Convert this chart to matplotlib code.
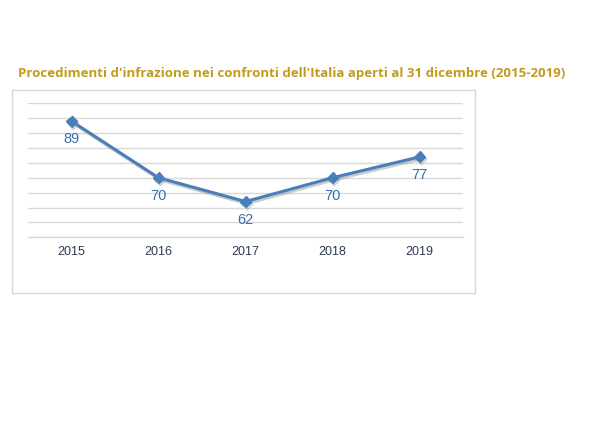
import matplotlib
matplotlib.use("Agg")
import matplotlib.pyplot as plt
import matplotlib.patheffects as pe
from matplotlib.patches import Rectangle

years = ["2015", "2016", "2017", "2018", "2019"]
values = [89, 70, 62, 70, 77]
title = "Procedimenti d'infrazione nei confronti dell'Italia aperti al 31 dicembre (2015-2019)"

fig = plt.figure(figsize=(5.9, 4.42), dpi=100)
fig.patch.set_facecolor("white")

# outer frame
fig.patches.append(Rectangle((12/590, 1-293/442), (475-12)/590, (293-90)/442,
                             transform=fig.transFigure, fill=False,
                             edgecolor="#d9d9d9", linewidth=1.0))

fig.text(18/590, 1-73/442, title, color="#c29b1c", fontsize=9.5,
         fontweight="bold", family=["Open Sans", "DejaVu Sans"], va="center", ha="left")

ax = fig.add_axes([28/590, 1-237.3/442, 435/590, (237.3-103.3)/442])
x = list(range(len(years)))
ax.plot(x, values, color="#4a7ebb", linewidth=2.2, marker="D", markersize=5.5,
        solid_capstyle="round",
        path_effects=[pe.SimpleLineShadow(offset=(1, -1.5), shadow_color="#999999", alpha=0.5),
                      pe.Normal()], zorder=3)
for xi, v in zip(x, values):
    ax.annotate(str(v), (xi, v), xytext=(0, -13), textcoords="offset points",
                ha="center", va="center", color="#3a6ea5", fontsize=10.5,
                family="Liberation Sans")

ax.set_xlim(-0.5, len(years) - 0.5)
ax.set_ylim(50, 95)
ax.set_yticks(range(50, 96, 5))
ax.yaxis.grid(True, color="#d9d9d9", linewidth=1.0)
ax.set_axisbelow(True)
ax.tick_params(axis="y", left=False, labelleft=False)
ax.set_xticks(x)
ax.set_xticklabels(years, color="#2e3a50", fontsize=9, family="Liberation Sans")
ax.tick_params(axis="x", length=0, pad=6)
for s in ["top", "right", "left"]:
    ax.spines[s].set_visible(False)
ax.spines["bottom"].set_color("#d9d9d9")
ax.spines["bottom"].set_linewidth(1.0)

fig.savefig("out.png", dpi=100)
